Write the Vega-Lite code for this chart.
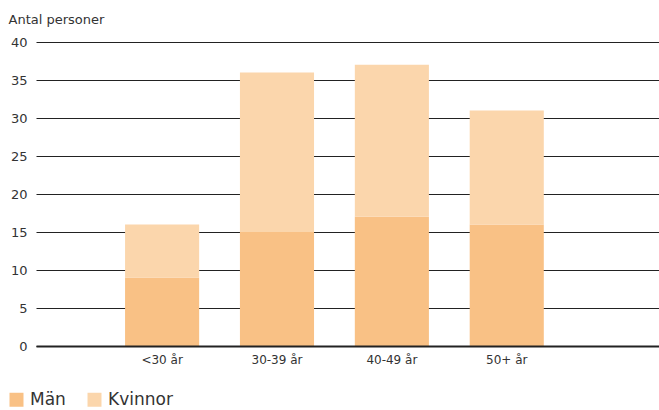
{
  "$schema": "https://vega.github.io/schema/vega-lite/v6.json",
  "width": 623,
  "height": 304,
  "autosize": {"type": "none"},
  "padding": {"left": 36, "top": 42, "right": 0, "bottom": 64},
  "background": "white",
  "config": {
    "view": {"stroke": null},
    "font": "DejaVu Sans"
  },
  "data": {
    "values": [
      {"alder": "<30 år", "kon": "Män", "antal": 9},
      {"alder": "<30 år", "kon": "Kvinnor", "antal": 7},
      {"alder": "30-39 år", "kon": "Män", "antal": 15},
      {"alder": "30-39 år", "kon": "Kvinnor", "antal": 21},
      {"alder": "40-49 år", "kon": "Män", "antal": 17},
      {"alder": "40-49 år", "kon": "Kvinnor", "antal": 20},
      {"alder": "50+ år", "kon": "Män", "antal": 16},
      {"alder": "50+ år", "kon": "Kvinnor", "antal": 15}
    ]
  },
  "mark": {"type": "bar"},
  "encoding": {
    "x": {
      "field": "alder",
      "type": "nominal",
      "sort": ["<30 år", "30-39 år", "40-49 år", "50+ år"],
      "scale": {"paddingInner": 0.355, "paddingOuter": 0.889, "align": 0.436},
      "axis": {
        "title": null,
        "labelAngle": 0,
        "labelFontSize": 12,
        "labelColor": "#333333",
        "labelPadding": 8,
        "ticks": false,
        "domain": true,
        "domainColor": "#222222",
        "domainWidth": 2,
        "zindex": 1
      }
    },
    "y": {
      "field": "antal",
      "type": "quantitative",
      "stack": "zero",
      "scale": {"domain": [0, 40], "nice": false},
      "axis": {
        "values": [0, 5, 10, 15, 20, 25, 30, 35, 40],
        "title": "Antal personer",
        "titleAngle": 0,
        "titleAlign": "left",
        "titleBaseline": "alphabetic",
        "titleX": -28,
        "titleY": -19,
        "titleFontSize": 13,
        "titleFontWeight": "normal",
        "titleColor": "#333333",
        "labelFontSize": 13,
        "labelColor": "#333333",
        "labelPadding": 9,
        "ticks": false,
        "domain": false,
        "grid": true,
        "gridColor": "#222222",
        "gridWidth": 1,
        "zindex": 0
      }
    },
    "color": {
      "field": "kon",
      "type": "nominal",
      "sort": ["Män", "Kvinnor"],
      "scale": {"domain": ["Män", "Kvinnor"], "range": ["#F9C185", "#FBD6AC"]},
      "legend": {
        "title": null,
        "orient": "none",
        "direction": "horizontal",
        "legendX": -28,
        "legendY": 349,
        "symbolType": "square",
        "symbolSize": 196,
        "symbolStrokeWidth": 0,
        "symbolOpacity": 1,
        "labelFontSize": 17,
        "labelColor": "#333333",
        "labelOffset": 5,
        "columnPadding": 20
      }
    },
    "order": {"field": "kon", "sort": "descending"}
  }
}
